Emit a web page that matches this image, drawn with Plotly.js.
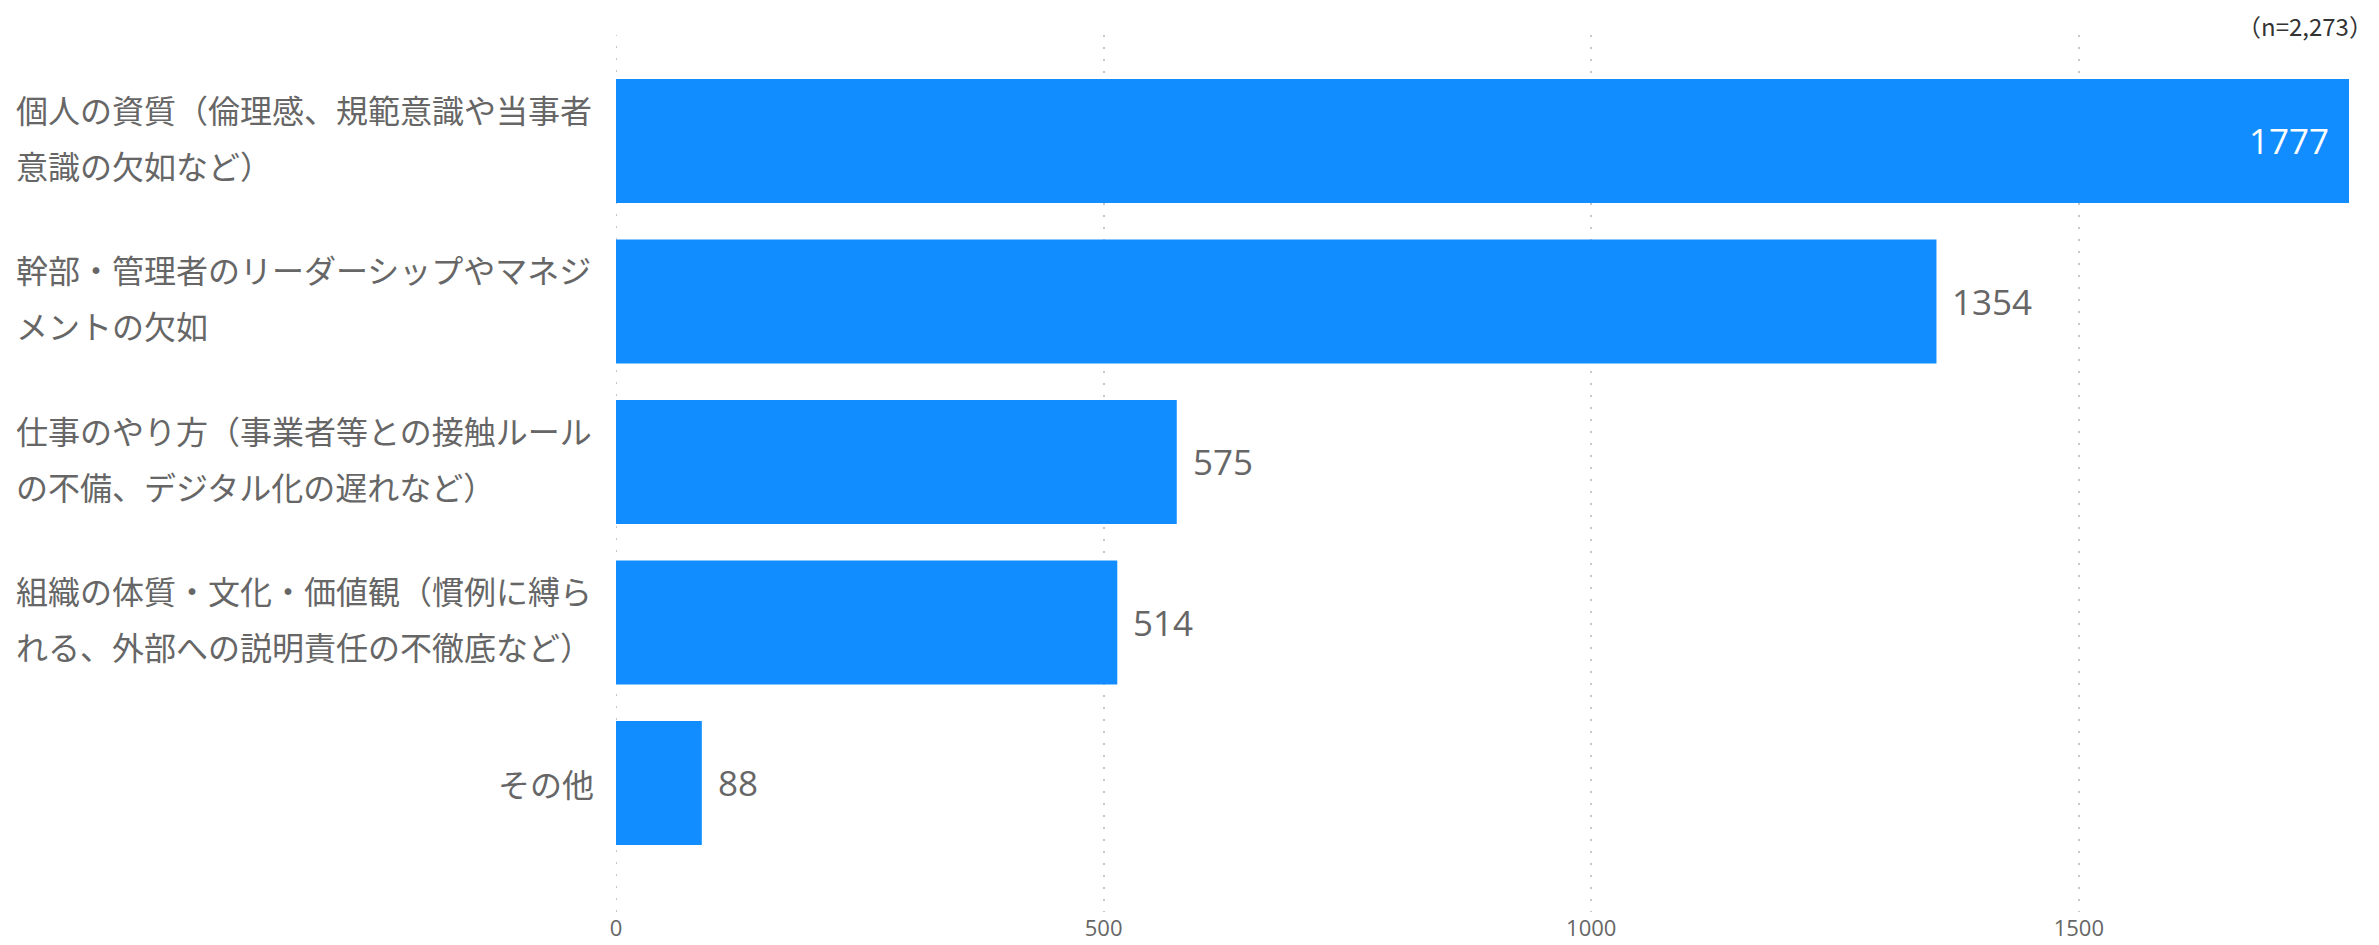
<!DOCTYPE html>
<html>
<head>
<meta charset="utf-8">
<script src="https://cdn.plot.ly/plotly-3.0.1.min.js"></script>
<style>
  html, body { margin: 0; padding: 0; background: #ffffff; }
  #chart { width: 2379px; height: 945px; }
</style>
</head>
<body>
<div id="chart"></div>
<script>
// ---- data ----
const categories = [
  "個人の資質（倫理感、規範意識や当事者意識の欠如など）",
  "幹部・管理者のリーダーシップやマネジメントの欠如",
  "仕事のやり方（事業者等との接触ルールの不備、デジタル化の遅れなど）",
  "組織の体質・文化・価値観（慣例に縛られる、外部への説明責任の不徹底など）",
  "その他"
];
const labelLines = [
  ["個人の資質（倫理感、規範意識や当事者", "意識の欠如など）"],
  ["幹部・管理者のリーダーシップやマネジ", "メントの欠如"],
  ["仕事のやり方（事業者等との接触ルール", "の不備、デジタル化の遅れなど）"],
  ["組織の体質・文化・価値観（慣例に縛ら", "れる、外部への説明責任の不徹底など）"],
  ["その他"]
];
const values = [1777, 1354, 575, 514, 88];
const xTicks = [0, 500, 1000, 1500];
const sampleNote = "（n=2,273）";

// ---- styles ----
const BAR_COLOR = "#118DFF";
const TEXT_COLOR = "#666666";
const GRID_COLOR = "#c8c8c8";
const GRID_DASH = "2px,10px";
const CJK_FONT = "'Noto Sans CJK JP', 'Noto Sans', sans-serif";
const NUM_FONT = "'Segoe UI', 'Open Sans', 'Noto Sans', sans-serif";

const maxVal = Math.max(...values);

const annotations = [];
// category labels
labelLines.forEach((lines, i) => {
  if (lines.length === 1) {
    annotations.push({
      xref: "paper", yref: "y", x: 0, y: categories[i],
      xanchor: "right", yanchor: "middle", xshift: -20, yshift: 0,
      text: lines[0], showarrow: false, align: "right",
      font: { family: CJK_FONT, size: 32, color: TEXT_COLOR }
    });
  } else {
    const offs = [32, -24];
    lines.forEach((ln, k) => {
      annotations.push({
        xref: "paper", yref: "y", x: 0, y: categories[i],
        xanchor: "left", yanchor: "middle", xshift: -602, yshift: offs[k],
        text: ln, showarrow: false, align: "left",
        font: { family: CJK_FONT, size: 32, color: TEXT_COLOR }
      });
    });
  }
});
// value labels
values.forEach((v, i) => {
  const inside = v >= 0.95 * maxVal;
  annotations.push({
    xref: "x", yref: "y", x: v, y: categories[i],
    xanchor: inside ? "right" : "left", yanchor: "middle",
    xshift: inside ? -18 : 14, yshift: 0,
    text: String(v), showarrow: false,
    font: { family: NUM_FONT, size: 35, color: inside ? "#ffffff" : TEXT_COLOR }
  });
});
// sample size note
annotations.push({
  xref: "paper", yref: "paper", x: 1, y: 1,
  xanchor: "right", yanchor: "middle", xshift: 26, yshift: 10,
  text: sampleNote, showarrow: false,
  font: { family: CJK_FONT, size: 24, color: "#333333" }
});

const trace = {
  type: "bar",
  orientation: "h",
  x: values,
  y: categories,
  marker: { color: BAR_COLOR },
  hoverinfo: "none",
  cliponaxis: false
};

const layout = {
  width: 2379,
  height: 945,
  paper_bgcolor: "#ffffff",
  plot_bgcolor: "#ffffff",
  margin: { l: 616, r: 30, t: 35, b: 33, pad: 0 },
  showlegend: false,
  bargap: 0.227,
  xaxis: {
    range: [0, maxVal],
    tickvals: xTicks,
    ticktext: xTicks.map(String),
    showgrid: true,
    gridcolor: GRID_COLOR,
    gridwidth: 2,
    griddash: GRID_DASH,
    zeroline: false,
    showline: false,
    ticks: "",
    ticklabelstandoff: 1,
    tickfont: { family: NUM_FONT, size: 22, color: TEXT_COLOR },
    fixedrange: true
  },
  yaxis: {
    type: "category",
    categoryorder: "array",
    categoryarray: categories,
    range: [4.804, -0.66],
    showticklabels: false,
    showgrid: false,
    zeroline: false,
    showline: false,
    ticks: "",
    fixedrange: true
  },
  shapes: [{
    type: "line", layer: "below",
    xref: "x", yref: "paper", x0: xTicks[0], x1: xTicks[0], y0: 0, y1: 1,
    line: { color: GRID_COLOR, width: 2, dash: GRID_DASH }
  }],
  annotations: annotations
};

Plotly.newPlot("chart", [trace], layout, { displayModeBar: false, staticPlot: true });
</script>
</body>
</html>
